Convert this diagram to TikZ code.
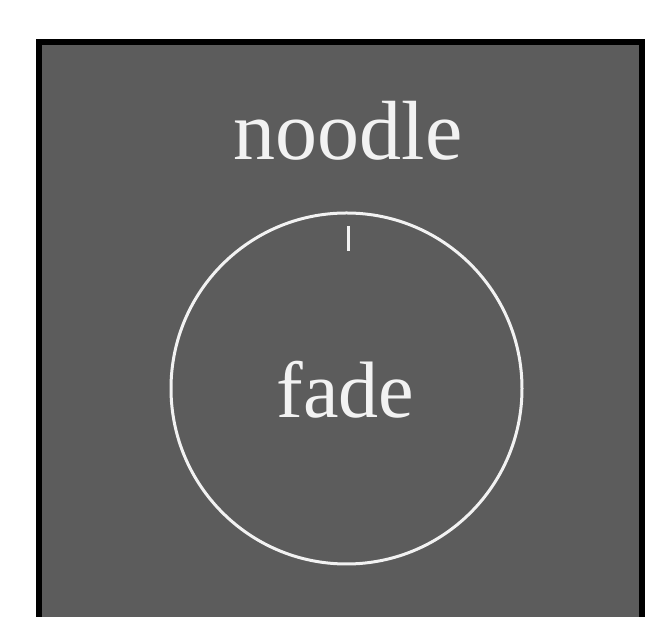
\documentclass[tikz,border=0pt]{standalone}
\usepackage{fontspec}
\setmainfont{Liberation Serif}
\definecolor{bggray}{RGB}{92,92,92}
\definecolor{chalk}{RGB}{242,242,242}
\tikzset{
  label text/.style={text=chalk, inner sep=0pt, anchor=base},
  ring/.style={circle, draw=chalk, line width=3pt, inner sep=0pt, minimum size=351pt},
  tickmark/.style={draw=chalk, line width=3pt}
}
\begin{document}
\begin{tikzpicture}[x=1pt,y=1pt]
  \useasboundingbox (0,0) rectangle (667,617);
  \fill[white] (0,0) rectangle (667,617);
  \fill[black] (36,0) rectangle (645,578);
  \fill[bggray] (42,0) rectangle (639,572);
  \node[ring] (ring) at (346.5,228.5) {};
  \node[label text, font=\fontsize{84}{90}\selectfont] (noodle) at (348,457) {noodle};
  \node[label text, font=\fontsize{80}{90}\selectfont] (fade) at (345.5,199) {fade};
  \coordinate (ticktop) at (348,391);
  \coordinate (tickbot) at (348,366);
  \draw[tickmark] (ticktop) -- (tickbot);
\end{tikzpicture}
\end{document}
